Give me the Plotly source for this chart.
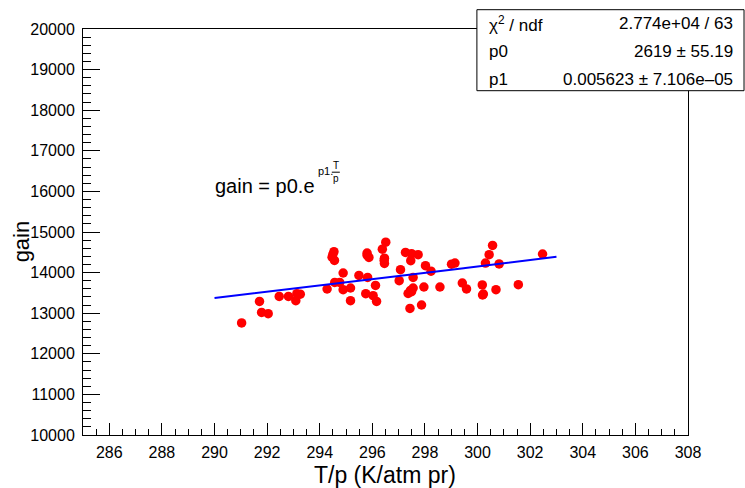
import numpy as np
import plotly.graph_objects as go

# data points (T/p, gain)
tp = [291.03, 291.71, 291.79, 292.04, 292.46, 292.81, 293.13, 293.26, 293.09,
      294.28, 294.54, 294.47, 294.56, 294.89, 294.57, 294.76, 294.89, 295.17,
      295.17, 295.49, 295.82, 295.75, 296.03, 296.16, 296.12, 295.80, 295.87,
      296.51, 296.38, 296.46, 296.46, 297.26, 297.49, 297.74, 297.46, 297.07,
      298.02, 298.23, 297.02, 297.55, 297.55, 297.49, 297.36, 297.96, 298.57,
      297.43, 297.87, 299.01, 299.14, 299.42, 299.58, 300.18, 300.19, 300.30,
      300.44, 300.57, 300.82, 300.70, 301.55, 302.47,
      294.50, 296.45, 297.45, 295.80, 300.22]
gain = [12760, 13291, 13020, 12988, 13414, 13414, 13480, 13468, 13308,
        13596, 14515, 14379, 14300, 13990, 13759, 13759, 13579, 13621,
        13308, 13931, 13882, 13480, 13431, 13291, 13685, 14483, 14374,
        14749, 14576, 14355, 14224, 14497, 14465, 14441, 14293, 14071,
        14170, 14034, 13800, 13882, 13621, 13529, 13485, 13645, 13645,
        13118, 13202, 14207, 14236, 13744, 13598, 13695, 13448, 14236,
        14441, 14670, 14214, 13579, 13702, 14458,
        14450, 14300, 13560, 14430, 13470]

# fit parameters
p0 = 2619.0
p1 = 0.005623
fit_range = [290.0, 303.0]

stat_labels = ["χ<sup>2</sup> / ndf", "p0", "p1"]
stat_values = ["2.774e+04 / 63", "2619 ± 55.19", "0.005623 ± 7.106e–05"]

xt = np.linspace(fit_range[0], fit_range[1], 200)
yt = p0 * np.exp(p1 * xt)

FONT = "Liberation Sans, Arial, sans-serif"

fig = go.Figure()
fig.add_trace(go.Scatter(x=tp, y=gain, mode="markers",
                         marker=dict(color="#ff0000", size=9.5, line=dict(width=0)),
                         showlegend=False, hoverinfo="skip"))
fig.add_trace(go.Scatter(x=xt, y=yt, mode="lines",
                         line=dict(color="#0000ff", width=2),
                         showlegend=False, hoverinfo="skip"))

W, H = 745, 488
L, R, T, B = 83.3, 688, 29.3, 435.3
pw, ph = R - L, B - T

def px(x):
    return (x - L) / pw

def py(y):
    return (B - y) / ph

fig.update_layout(
    width=W, height=H,
    margin=dict(l=L, r=W - R, t=T, b=H - B, pad=0),
    paper_bgcolor="white", plot_bgcolor="white",
    font=dict(family=FONT, color="black", size=16),
    xaxis=dict(range=[285, 308], showgrid=False, zeroline=False,
               showline=True, linecolor="black", linewidth=1, mirror=True,
               ticks="inside", ticklen=12, tickwidth=1, tickcolor="black",
               dtick=2, tick0=286, tickfont=dict(size=16, family=FONT),
               ticklabelstandoff=3,
               minor=dict(ticks="inside", ticklen=6, dtick=0.5, tick0=286,
                          tickcolor="black", tickwidth=1, showgrid=False)),
    yaxis=dict(range=[10000, 20000], showgrid=False, zeroline=False,
               showline=True, linecolor="black", linewidth=1, mirror=True,
               ticks="inside", ticklen=17, tickwidth=1, tickcolor="black",
               dtick=1000, tick0=10000, tickformat="d",
               tickfont=dict(size=16, family=FONT),
               ticklabelstandoff=4,
               minor=dict(ticks="inside", ticklen=8, dtick=200, tick0=10000,
                          tickcolor="black", tickwidth=1, showgrid=False)),
)

annotations = []
# axis titles
annotations.append(dict(text="T/p (K/atm pr)", xref="paper", yref="paper",
                        x=px(385.5), y=py(475), xanchor="center", yanchor="middle",
                        showarrow=False, font=dict(size=23, family=FONT)))
annotations.append(dict(text="gain", xref="paper", yref="paper", textangle=-90,
                        x=px(22), y=py(242), xanchor="center", yanchor="middle",
                        showarrow=False, font=dict(size=22, family=FONT)))
# formula
annotations.append(dict(text="gain = p0.e", xref="paper", yref="paper",
                        x=px(213), y=py(186), xanchor="left", yanchor="middle",
                        showarrow=False, font=dict(size=20, family=FONT)))
annotations.append(dict(text="p1.", xref="paper", yref="paper",
                        x=px(316), y=py(171), xanchor="left", yanchor="middle",
                        showarrow=False, font=dict(size=11, family=FONT)))
annotations.append(dict(text="T", xref="paper", yref="paper",
                        x=px(336), y=py(166), xanchor="center", yanchor="middle",
                        showarrow=False, font=dict(size=10, family=FONT)))
annotations.append(dict(text="p", xref="paper", yref="paper",
                        x=px(336), y=py(179), xanchor="center", yanchor="middle",
                        showarrow=False, font=dict(size=10, family=FONT)))
# stats box
rows_y = [24, 52, 80]
for lab, val, yy in zip(stat_labels, stat_values, rows_y):
    annotations.append(dict(text=lab, xref="paper", yref="paper",
                            x=px(487), y=py(yy), xanchor="left", yanchor="middle",
                            showarrow=False, font=dict(size=17, family=FONT)))
    annotations.append(dict(text=val, xref="paper", yref="paper",
                            x=px(735), y=py(yy), xanchor="right", yanchor="middle",
                            showarrow=False, font=dict(size=17, family=FONT)))

shapes = [
    dict(type="rect", xref="paper", yref="paper",
         x0=px(477), x1=px(744), y0=py(91), y1=py(10),
         fillcolor="white", line=dict(color="black", width=1), layer="above"),
    dict(type="line", xref="paper", yref="paper",
         x0=px(332), x1=px(340), y0=py(172.5), y1=py(172.5),
         line=dict(color="black", width=1)),
]
fig.update_layout(annotations=annotations, shapes=shapes)

fig.write_html("out.html")
